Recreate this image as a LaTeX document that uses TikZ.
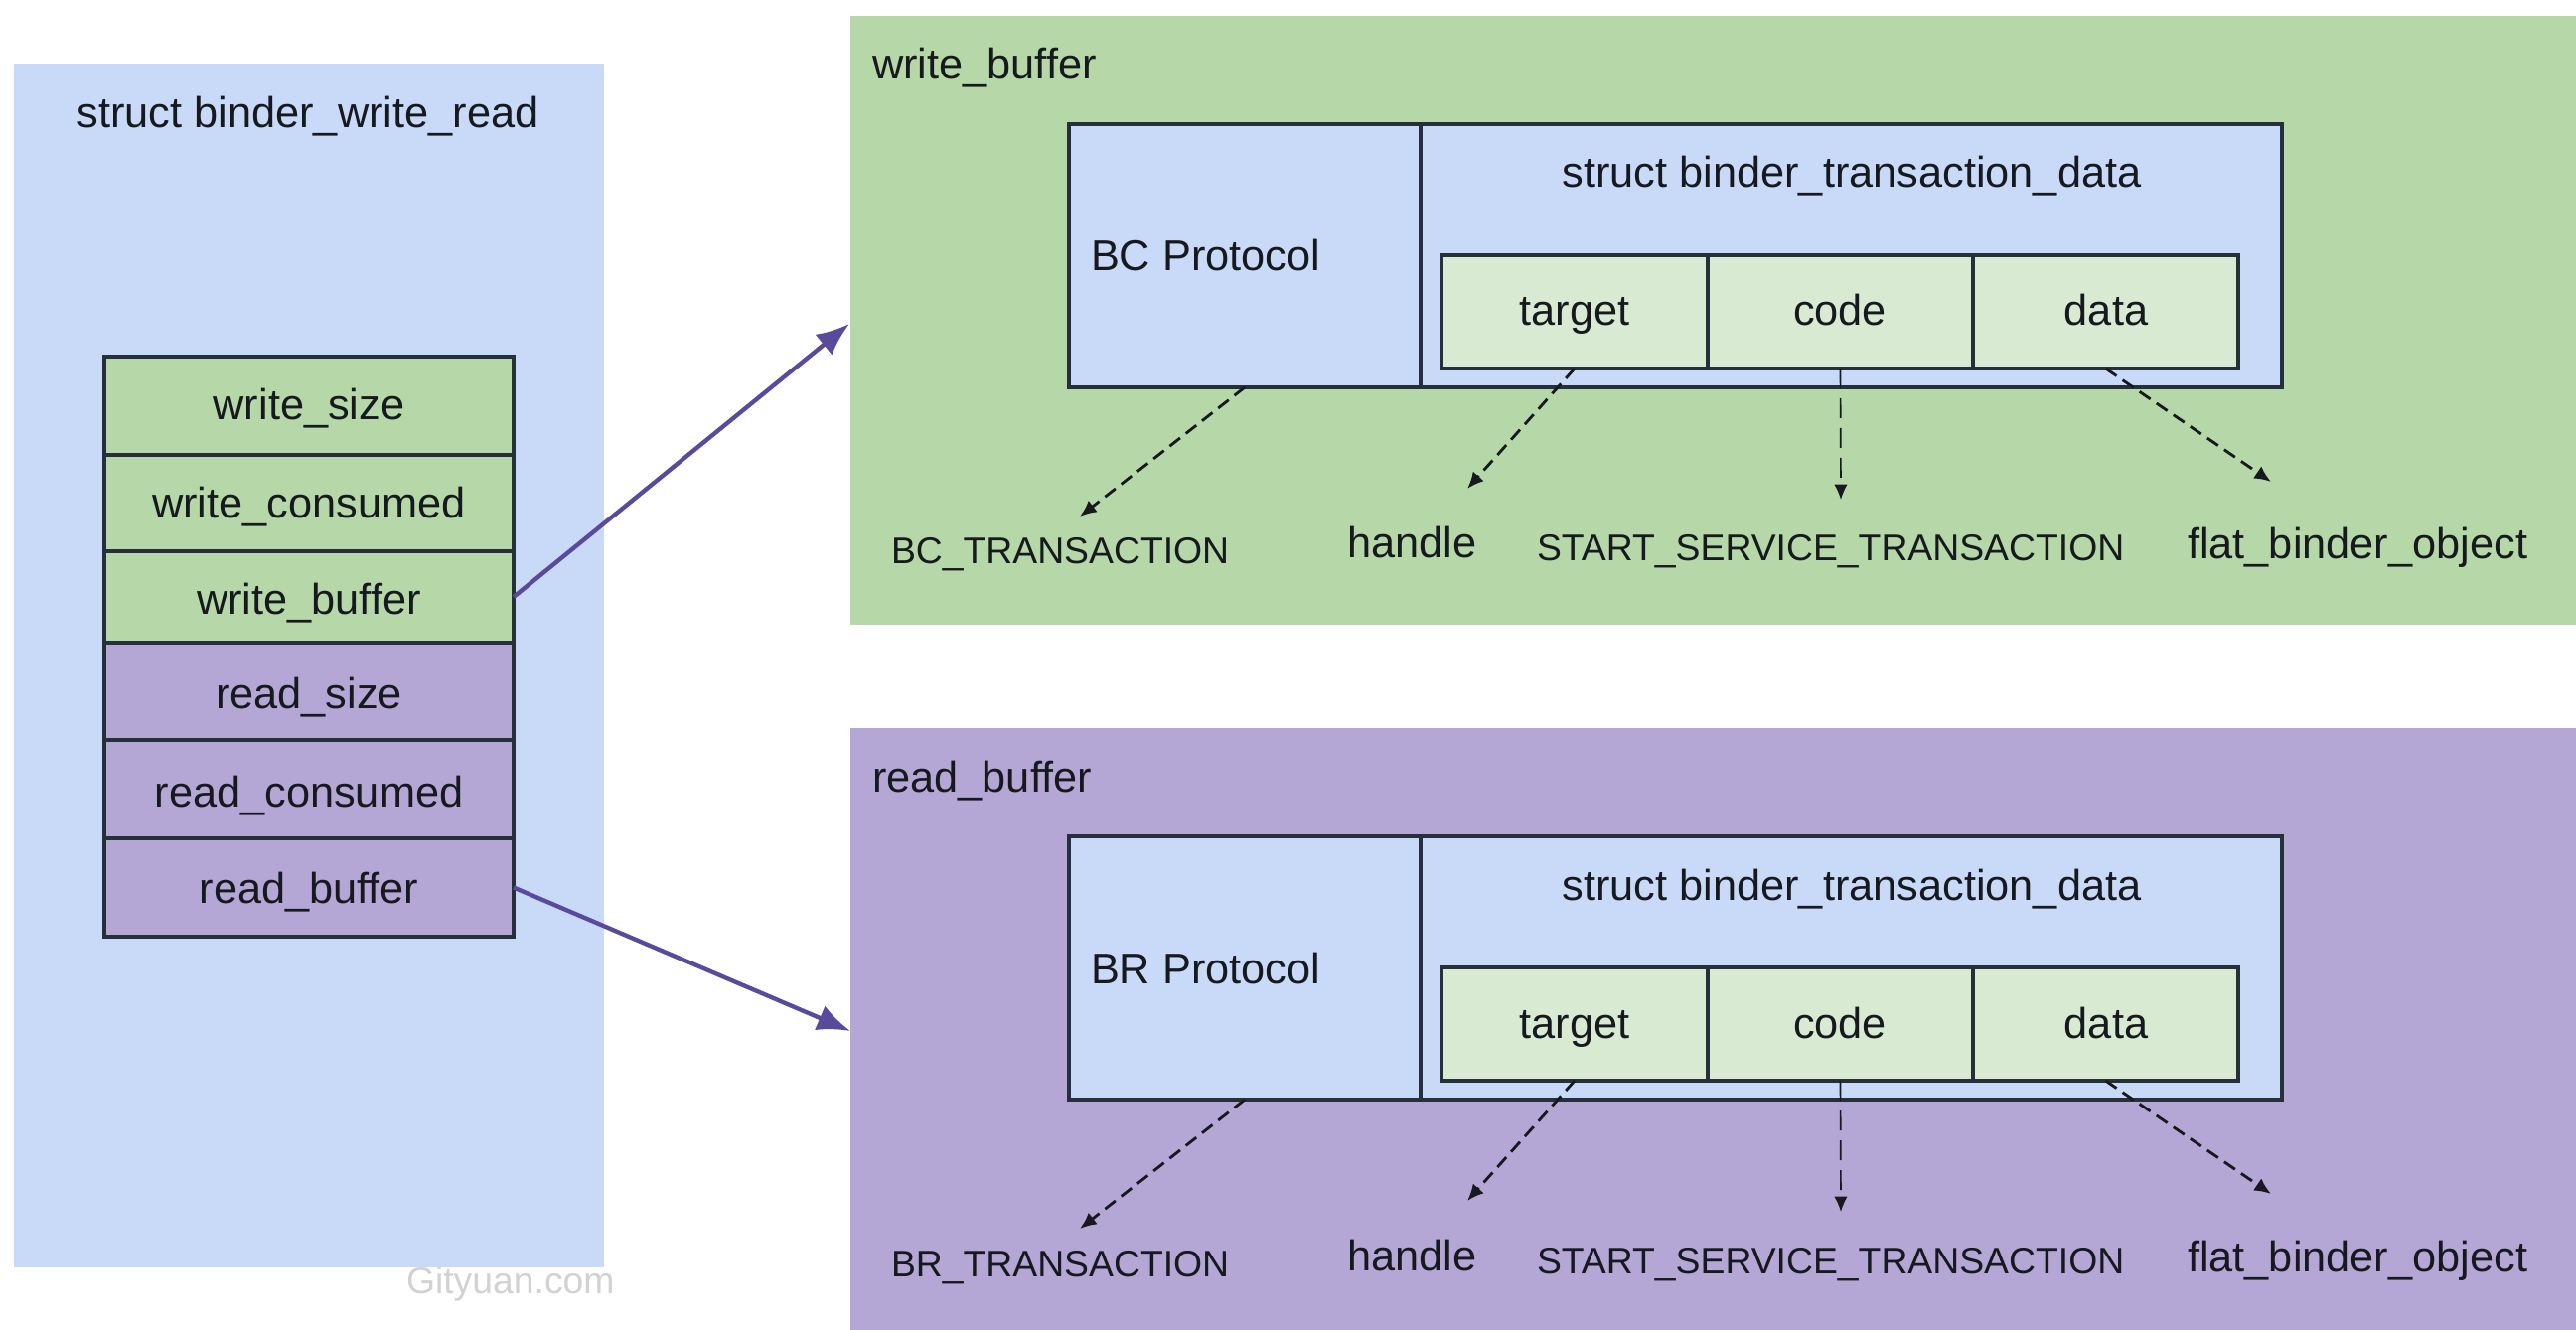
\documentclass[tikz,border=0pt]{standalone}
\usepackage{fontspec}
\setmainfont{Liberation Sans}
\usetikzlibrary{fit,arrows.meta}
\definecolor{lblue}{HTML}{C9DAF8}
\definecolor{lgreen}{HTML}{B6D7A8}
\definecolor{lpurple}{HTML}{B4A7D6}
\definecolor{pgreen}{HTML}{D9EAD3}
\definecolor{edge}{HTML}{26303A}
\definecolor{arrowp}{HTML}{5A4A9E}
\definecolor{txt}{HTML}{161A1E}
\definecolor{wm}{HTML}{D2D2D2}
\begin{document}
\begin{tikzpicture}[x=0.3pt,y=-0.3pt,
  region/.style={inner sep=0pt, outer sep=0pt, draw=none},
  cell/.style={inner sep=0pt, outer sep=0pt, draw=edge, line width=0.95pt},
  lbl/.style={inner sep=0pt, outer sep=0pt, text=txt, font=\fontsize{13pt}{15pt}\selectfont},
  caps/.style={lbl, font=\fontsize{11.2pt}{13pt}\selectfont},
  link/.style={draw=arrowp, line width=1.3pt, -{Latex[length=10pt,width=8pt]}},
  pointer/.style={draw=txt, line width=0.85pt, dash pattern=on 4pt off 2.2pt, -{Latex[length=5pt,width=4.4pt]}},
  thinpointer/.style={draw=txt, line width=0.5pt, dash pattern=on 6pt off 3pt, -{Latex[length=4.6pt,width=4pt]}}
]
\useasboundingbox (0,0) rectangle (2593,1339);

% left struct
\node[region, fill=lblue, fit={(14,64) (608,1276)}] (bwr) {};
\node[lbl, anchor=base] (bwrtitle) at (310,129) {struct binder\_write\_read};

\node[cell, fill=lgreen, fit={(105,359) (517,458)}] (wsize) {};
\node[cell, fill=lgreen, fit={(105,458) (517,555)}] (wcons) {};
\node[cell, fill=lgreen, fit={(105,555) (517,647)}] (wbuf) {};
\node[cell, fill=lpurple, fit={(105,647) (517,745)}] (rsize) {};
\node[cell, fill=lpurple, fit={(105,745) (517,844)}] (rcons) {};
\node[cell, fill=lpurple, fit={(105,844) (517,943)}] (rbuf) {};
\node[lbl, anchor=base] (wsizet) at (311,423) {write\_size};
\node[lbl, anchor=base] (wconst) at (311,522) {write\_consumed};
\node[lbl, anchor=base] (wbuft) at (311,618) {write\_buffer};
\node[lbl, anchor=base] (rsizet) at (311,713) {read\_size};
\node[lbl, anchor=base] (rconst) at (311,812) {read\_consumed};
\node[lbl, anchor=base] (rbuft) at (311,909) {read\_buffer};

\node[lbl, text=wm, font=\fontsize{11.2pt}{13pt}\selectfont, anchor=base west] (wmark) at (409,1302) {Gityuan.com};

% right sections
\foreach \s/\dy/\pr/\hue/\nm in {w/0/BC/lgreen/write\_buffer, r/717/BR/lpurple/read\_buffer} {
  \node[region, fill=\hue, fit={(856,{16+\dy}) (2593,{629+\dy})}] (\s-panel) {};
  \node[lbl, anchor=base west] (\s-name) at (878,{80+\dy}) {\nm};
  \node[cell, fill=lblue, fit={(1076,{125+\dy}) (1430,{390+\dy})}] (\s-proto) {};
  \node[cell, fill=lblue, fit={(1430,{125+\dy}) (2297,{390+\dy})}] (\s-btd) {};
  \node[cell, fill=pgreen, fit={(1451,{257+\dy}) (1719,{371+\dy})}] (\s-target) {};
  \node[cell, fill=pgreen, fit={(1719,{257+\dy}) (1986,{371+\dy})}] (\s-code) {};
  \node[cell, fill=pgreen, fit={(1986,{257+\dy}) (2253,{371+\dy})}] (\s-data) {};
  \node[lbl, anchor=base west] (\s-protot) at (1098,{273+\dy}) {\pr\ Protocol};
  \node[lbl, anchor=base] (\s-btdt) at (1864,{189+\dy}) {struct binder\_transaction\_data};
  \node[lbl, anchor=base] (\s-targett) at (1585,{328+\dy}) {target};
  \node[lbl, anchor=base] (\s-codet) at (1852,{328+\dy}) {code};
  \node[lbl, anchor=base] (\s-datat) at (2120,{328+\dy}) {data};
  \node[caps, anchor=base west] (\s-l1) at (897,{568+\dy}) {\pr\_TRANSACTION};
  \node[lbl, anchor=base west] (\s-l2) at (1356,{562+\dy}) {handle};
  \node[caps, anchor=base west] (\s-l3) at (1547,{565+\dy}) {START\_SERVICE\_TRANSACTION};
  \node[lbl, anchor=base west] (\s-l4) at (2202,{563+\dy}) {flat\_binder\_object};
  \coordinate (\s-e1) at (1087,{520+\dy});
  \coordinate (\s-e2) at (1477,{492+\dy});
  \coordinate (\s-e3) at (1853,{503+\dy});
  \coordinate (\s-e4) at (2286,{485+\dy});
  \draw[pointer] (\s-proto.south) -- (\s-e1);
  \draw[pointer] (\s-target.south) -- (\s-e2);
  \draw[thinpointer] (\s-code.south) -- (\s-e3);
  \draw[pointer] (\s-data.south) -- (\s-e4);
}

% links
\coordinate (wtip) at (855,326);
\coordinate (rtip) at (856,1038);
\draw[link] (wbuf.east) -- (wtip);
\draw[link] (rbuf.east) -- (rtip);
\end{tikzpicture}
\end{document}
